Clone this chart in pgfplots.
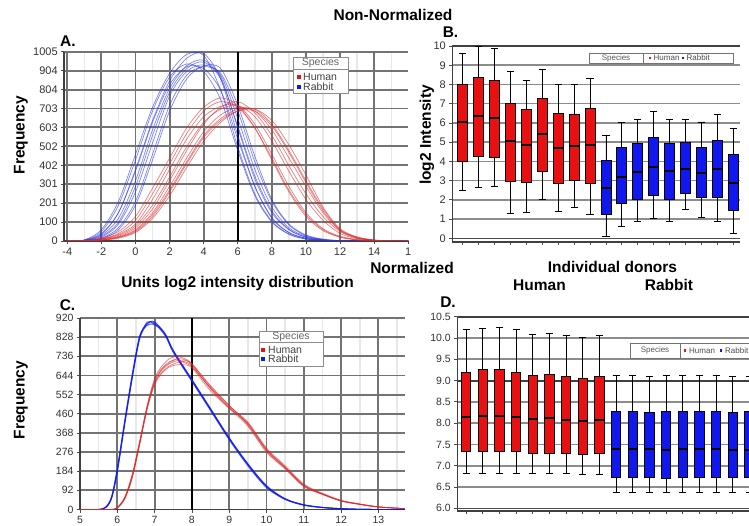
\documentclass[border=0pt]{standalone}
\usepackage{fontspec}
\setmainfont{Liberation Sans}
\usepackage{pgfplots}
\usepgfplotslibrary{statistics}
\pgfplotsset{compat=1.18}
\usepackage{pgfplotstable}

\definecolor{hred}{RGB}{232,16,16}
\definecolor{rblue}{RGB}{16,24,238}
\definecolor{lred}{RGB}{215,40,40}
\definecolor{lblue}{RGB}{40,50,225}

\newcommand{\tf}{\fontsize{15.5}{17}\selectfont\bfseries}
\newcommand{\bx}[7]{\addplot[draw=black, line width=0.9pt, fill=#1, boxplot prepared={draw direction=y, draw position=#2, lower whisker=#3, lower quartile=#4, median=#5, upper quartile=#6, upper whisker=#7}] coordinates {};}

\pgfplotstableread{
x b1 b2 b3 b4 b5 b6 b7 b8 b9 r1 r2 r3 r4 r5 r6 r7 r8 r9
-4 0 0 0 0 0 0 0 0 0 0 0 0 0 0 0 0 0 0
-3 4 3 2 5 1 4 2 1 6 3 2 2 1 1 1 1 2 1
-2 35 30 20 50 15 40 25 12 60 15 12 10 8 5 6 4 10 5
-1 150 120 90 190 70 150 100 60 210 50 40 35 25 20 22 15 30 18
0 380 320 260 430 210 370 290 190 460 130 110 90 70 55 60 45 80 50
1 640 590 520 690 460 630 560 430 710 280 250 220 170 140 150 120 190 130
2 850 810 770 870 720 830 790 690 890 440 410 380 320 270 290 240 340 260
3 970 930 900 940 880 925 915 860 990 600 570 540 480 420 440 390 500 410
4 995 960 935 900 925 915 950 930 985 710 690 660 620 560 580 530 630 550
5 860 870 880 750 890 800 860 915 800 760 740 715 710 650 670 630 700 640
6 560 600 650 480 690 540 610 720 500 720 710 720 740 700 710 690 720 690
7 290 330 380 240 420 290 345 450 250 600 600 620 680 700 690 700 660 690
8 120 150 180 100 210 125 160 220 105 430 440 460 560 620 590 640 530 610
9 45 60 70 35 85 45 62 90 38 260 270 290 400 480 440 510 370 470
10 15 20 25 10 28 14 20 32 11 130 140 150 250 320 290 350 220 310
11 4 6 7 3 8 4 5 10 3 55 60 65 130 170 150 180 110 160
12 1 1 2 0 2 1 1 2 0 20 22 25 50 60 55 65 40 58
13 0 0 0 0 0 0 0 0 0 5 6 8 15 20 16 22 12 18
14 0 0 0 0 0 0 0 0 0 1 1 2 3 5 4 6 2 4
15 0 0 0 0 0 0 0 0 0 0 0 0 0 0 0 0 0 0
16 0 0 0 0 0 0 0 0 0 0 0 0 0 0 0 0 0 0
}\tabA

\pgfplotstableread{
x b1 b2 b3 b4
5 0 0 0 0
5.5 0 0 0 0
5.7 12 10 14 11
5.85 60 55 65 58
6.0 190 180 200 185
6.2 420 410 430 415
6.4 640 630 650 635
6.6 830 820 835 825
6.8 895 890 885 900
6.95 900 905 890 895
7.1 880 885 875 878
7.3 835 840 830 838
7.5 760 765 755 762
8.0 620 625 615 622
8.5 480 485 475 482
9.0 340 345 335 342
9.5 215 220 210 218
10 110 115 105 112
10.5 50 52 48 51
11 22 23 20 22
11.5 10 10 9 10
12 4 4 3 4
12.5 1 1 1 1
13 0 0 0 0
13.7 0 0 0 0
}\tabCb

\pgfplotstableread{
x r1 r2 r3 r4 r5 r6
5 0 0 0 0 0 0
5.7 0 0 0 0 0 0
5.85 0 0 0 0 0 0
6.0 8 10 6 9 7 8
6.2 55 60 50 58 52 56
6.4 160 170 150 165 155 162
6.6 320 330 310 325 315 322
6.8 490 500 480 495 485 492
7.0 610 630 600 620 605 615
7.2 670 690 655 680 660 675
7.4 700 725 685 710 690 705
7.6 715 735 695 720 705 725
7.8 710 725 695 705 715 720
8.0 690 700 680 685 700 695
8.5 580 590 570 585 595 582
9.0 490 500 485 495 500 488
9.5 410 415 400 420 405 412
10 285 290 275 295 280 288
10.5 200 205 195 210 198 202
11 115 118 110 122 112 116
11.5 75 76 72 78 73 74
12 42 43 40 44 41 42
12.5 25 26 24 27 25 25
13 12 13 12 13 12 12
13.7 4 4 4 5 4 4
}\tabCr

\pgfplotsset{
  /pgf/number format/assume math mode=true,
  every axis/.append style={
    scale only axis, anchor=south west,
    tick align=outside, major tick length=3pt, minor tick length=0pt,
    tick style={black!70, line width=0.8pt},
    tick label style={font=\fontsize{11}{12}\selectfont, text=black!80},
    axis line style={-, black!75, line width=1.6pt},
  }
}

\begin{document}
\begin{tikzpicture}
\path[use as bounding box] (0pt,0pt) rectangle (749pt,525pt);

% ---------------- Panel A ----------------
\begin{axis}[
  width=344.1pt, height=189.3pt, at={(64.2pt,284pt)},
  xmin=-4.18, xmax=16, ymin=0, ymax=1005,
  xtick={-4,-2,0,2,4,6,8,10,12,14}, minor xtick={-3,-1,1,3,5,7,9,11,13,15},
  extra x ticks={16}, extra x tick labels={1}, extra x tick style={grid=none},
  ytick={0,100.5,201,301.5,402,502.5,603,703.5,804,904.5,1005},
  yticklabels={0,100,201,301,402,502,603,703,804,904,1005},
  grid=both,
  major grid style={black!55, line width=1.9pt},
  minor grid style={black!9, line width=1.5pt},
  axis x line*=bottom, axis y line*=left,
]
\draw[black, line width=2pt] (axis cs:6,0) -- (axis cs:6,1005);
\pgfplotsinvokeforeach{b1,b2,b3,b4,b5,b6,b7,b8,b9}{
  \addplot[lblue, line width=0.7pt, opacity=0.6, smooth] table[x=x, y=#1] {\tabA};
}
\pgfplotsinvokeforeach{r1,r2,r3,r4,r5,r6,r7,r8,r9}{
  \addplot[lred, line width=0.7pt, opacity=0.6, smooth] table[x=x, y=#1] {\tabA};
}
\end{axis}

% ---------------- Panel C ----------------
\begin{axis}[
  width=325.3pt, height=191.5pt, at={(80pt,15.5pt)},
  xmin=5, xmax=13.72, ymin=0, ymax=920,
  xtick={5,6,7,8,9,10,11,12,13}, minor xtick={5.5,6.5,7.5,8.5,9.5,10.5,11.5,12.5,13.5},
  ytick={0,92,184,276,368,460,552,644,736,828,920},
  tick label style={font=\fontsize{10.5}{12}\selectfont, text=black!80},
  grid=both,
  major grid style={black!55, line width=1.9pt},
  minor grid style={black!9, line width=1.5pt},
  axis x line*=bottom, axis y line*=left,
]
\draw[black, line width=2pt] (axis cs:8,0) -- (axis cs:8,920);
\pgfplotsinvokeforeach{b1,b2,b3,b4}{
  \addplot[rblue, line width=0.9pt, opacity=0.75, smooth] table[x=x, y=#1] {\tabCb};
}
\pgfplotsinvokeforeach{r1,r2,r3,r4,r5,r6}{
  \addplot[lred, line width=0.7pt, opacity=0.6, smooth] table[x=x, y=#1] {\tabCr};
}
\end{axis}

% ---------------- Panel B ----------------
\begin{axis}[
  width=287.7pt, height=195.8pt, at={(452.3pt,283.2pt)},
  xmin=0.347, xmax=18.42, ymin=-0.18, ymax=10,
  xtick={1,...,18}, xticklabels={},
  ytick={0,1,2,3,4,5,6,7,8,9,10},
  ymajorgrids, major grid style={black!45, line width=1.6pt},
  axis x line*=bottom, axis y line*=left,
  y axis line style={line width=0.6pt},
  boxplot/box extend=0.63, boxplot/whisker extend=0.45,
  boxplot/every median/.style={line width=2pt},
]
\draw[black!75, line width=1.8pt] (rel axis cs:0,1) -- (rel axis cs:1,1);
\draw[black!70, line width=1.4pt] (axis cs:0.347,0) -- (axis cs:18.42,0);
\bx{hred}{1}{2.5}{4.0}{6.05}{8.0}{9.6}
\bx{hred}{2}{2.65}{4.25}{6.35}{8.35}{10.0}
\bx{hred}{3}{2.7}{4.2}{6.25}{8.2}{9.85}
\bx{hred}{4}{1.3}{2.95}{5.05}{7.0}{8.7}
\bx{hred}{5}{1.35}{2.9}{4.85}{6.7}{8.2}
\bx{hred}{6}{2.0}{3.5}{5.45}{7.25}{8.8}
\bx{hred}{7}{1.4}{2.85}{4.7}{6.5}{8.0}
\bx{hred}{8}{1.6}{3.0}{4.8}{6.45}{8.0}
\bx{hred}{9}{1.25}{2.85}{4.85}{6.75}{8.3}
\bx{rblue}{10}{0.1}{1.25}{2.6}{4.05}{5.35}
\bx{rblue}{11}{0.6}{1.8}{3.2}{4.7}{6.0}
\bx{rblue}{12}{0.9}{2.0}{3.45}{4.95}{6.2}
\bx{rblue}{13}{1.05}{2.25}{3.7}{5.25}{6.6}
\bx{rblue}{14}{0.9}{2.0}{3.5}{4.95}{6.2}
\bx{rblue}{15}{1.5}{2.35}{3.6}{5.0}{6.2}
\bx{rblue}{16}{1.1}{2.1}{3.4}{4.75}{6.05}
\bx{rblue}{17}{0.9}{2.15}{3.6}{5.1}{6.45}
\bx{rblue}{18}{0.25}{1.45}{2.9}{4.35}{5.7}
\end{axis}

% ---------------- Panel D ----------------
\begin{axis}[
  width=291.7pt, height=194pt, at={(457.3pt,14.3pt)},
  xmin=0.478, xmax=17.98, ymin=5.944, ymax=10.5,
  xtick={1,...,17}, xticklabels={},
  ytick={6,6.5,7,7.5,8,8.5,9,9.5,10,10.5},
  yticklabels={6.0,6.5,7.0,7.5,8.0,8.5,9.0,9.5,10.0,10.5},
  tick label style={font=\fontsize{10.5}{12}\selectfont, text=black!80},
  ymajorgrids, major grid style={black!45, line width=1.6pt},
  axis x line*=bottom, axis y line*=left,
  y axis line style={line width=0.6pt},
  boxplot/box extend=0.56, boxplot/whisker extend=0.42,
  boxplot/every median/.style={line width=2pt},
]
\draw[black!75, line width=1.8pt] (rel axis cs:0,1) -- (rel axis cs:1,1);
\draw[black!70, line width=1.4pt] (axis cs:0.478,6) -- (axis cs:17.98,6);
\draw[black!75, line width=1.9pt] (axis cs:0.478,9) -- (axis cs:17.98,9);
\bx{hred}{1}{6.82}{7.33}{8.15}{9.20}{10.20}
\bx{hred}{2}{6.82}{7.33}{8.16}{9.25}{10.22}
\bx{hred}{3}{6.82}{7.33}{8.16}{9.25}{10.25}
\bx{hred}{4}{6.82}{7.33}{8.14}{9.20}{10.20}
\bx{hred}{5}{6.82}{7.30}{8.10}{9.12}{10.08}
\bx{hred}{6}{6.82}{7.30}{8.12}{9.14}{10.10}
\bx{hred}{7}{6.82}{7.30}{8.08}{9.10}{10.05}
\bx{hred}{8}{6.80}{7.26}{8.05}{9.06}{10.02}
\bx{hred}{9}{6.80}{7.28}{8.07}{9.10}{10.05}
\bx{rblue}{10}{6.38}{6.73}{7.40}{8.28}{9.12}
\bx{rblue}{11}{6.38}{6.73}{7.40}{8.28}{9.13}
\bx{rblue}{12}{6.37}{6.72}{7.40}{8.25}{9.10}
\bx{rblue}{13}{6.37}{6.71}{7.38}{8.27}{9.12}
\bx{rblue}{14}{6.38}{6.73}{7.40}{8.28}{9.13}
\bx{rblue}{15}{6.37}{6.73}{7.40}{8.28}{9.12}
\bx{rblue}{16}{6.37}{6.72}{7.40}{8.27}{9.11}
\bx{rblue}{17}{6.37}{6.73}{7.37}{8.25}{9.10}
\bx{rblue}{18}{6.37}{6.73}{7.38}{8.27}{9.10}
\end{axis}

% ---------------- Texts and legends ----------------
\begin{scope}[x=1pt,y=1pt]
\node[font=\tf] at (393,510) {Non-Normalized};
\node[font=\tf, anchor=west, inner sep=0pt] at (60,484) {A.};
\node[font=\tf] at (450.5,493) {B.};
\node[font=\tf, anchor=east, inner sep=0pt] at (454,257) {Normalized};
\node[font=\tf] at (237.5,241) {Units log2 intensity distribution};
\node[font=\tf] at (67.5,220) {C.};
\node[font=\tf] at (612.5,258) {Individual donors};
\node[font=\tf] at (539.5,240) {Human};
\node[font=\tf] at (669,240) {Rabbit};
\node[font=\tf] at (448,223) {D.};
\node[font=\tf, rotate=90] at (21,390) {Frequency};
\node[font=\tf, rotate=90] at (427,390) {log2 Intensity};
\node[font=\tf, rotate=90] at (21,125) {Frequency};

% legend A
\filldraw[fill=white, draw=black!45, line width=0.9pt] (293,432) rectangle (348,468);
\draw[black!45, line width=0.9pt] (293,455.7) -- (348,455.7);
\node[font=\fontsize{10.5}{12}\selectfont, text=black!60] at (320.5,462) {Species};
\fill[hred] (297.3,446.3) rectangle (300.7,449.7);
\node[font=\fontsize{10.5}{12}\selectfont, text=black!75, anchor=west, inner sep=0pt] at (303,448) {Human};
\fill[rblue] (297.3,436.3) rectangle (300.7,439.7);
\node[font=\fontsize{10.5}{12}\selectfont, text=black!75, anchor=west, inner sep=0pt] at (303,438) {Rabbit};

% legend C
\filldraw[fill=white, draw=black!45, line width=0.9pt] (259,159) rectangle (323,194);
\draw[black!45, line width=0.9pt] (259,183) -- (323,183);
\node[font=\fontsize{10.5}{12}\selectfont, text=black!60] at (291,188.5) {Species};
\fill[hred] (261.3,173.3) rectangle (264.7,176.7);
\node[font=\fontsize{10.5}{12}\selectfont, text=black!75, anchor=west, inner sep=0pt] at (268,175) {Human};
\fill[rblue] (261.3,164.3) rectangle (264.7,167.7);
\node[font=\fontsize{10.5}{12}\selectfont, text=black!75, anchor=west, inner sep=0pt] at (268,166) {Rabbit};

% legend B
\filldraw[fill=white, draw=black!55, line width=0.8pt] (589,462) rectangle (733,472);
\draw[black!55, line width=0.8pt] (643,462) -- (643,472);
\node[font=\fontsize{8}{9}\selectfont, text=black!65] at (616,467) {Species};
\fill[hred] (648.6,465.6) rectangle (651.4,468.4);
\node[font=\fontsize{8}{9}\selectfont, text=black!70, anchor=west, inner sep=0pt] at (653.5,467) {Human};
\fill[rblue] (681.6,465.6) rectangle (684.4,468.4);
\node[font=\fontsize{8}{9}\selectfont, text=black!70, anchor=west, inner sep=0pt] at (686.5,467) {Rabbit};

% legend D
\filldraw[fill=white, draw=black!55, line width=0.8pt] (630,167) rectangle (765,182);
\draw[black!55, line width=0.8pt] (680,167) -- (680,182);
\node[font=\fontsize{8}{9}\selectfont, text=black!65] at (655,174.5) {Species};
\fill[hred] (683.6,173.1) rectangle (686.4,175.9);
\node[font=\fontsize{8}{9}\selectfont, text=black!70, anchor=west, inner sep=0pt] at (689,174.5) {Human};
\fill[rblue] (719.6,173.1) rectangle (722.4,175.9);
\node[font=\fontsize{8}{9}\selectfont, text=black!70, anchor=west, inner sep=0pt] at (725,174.5) {Rabbit};
\end{scope}
\end{tikzpicture}
\end{document}
